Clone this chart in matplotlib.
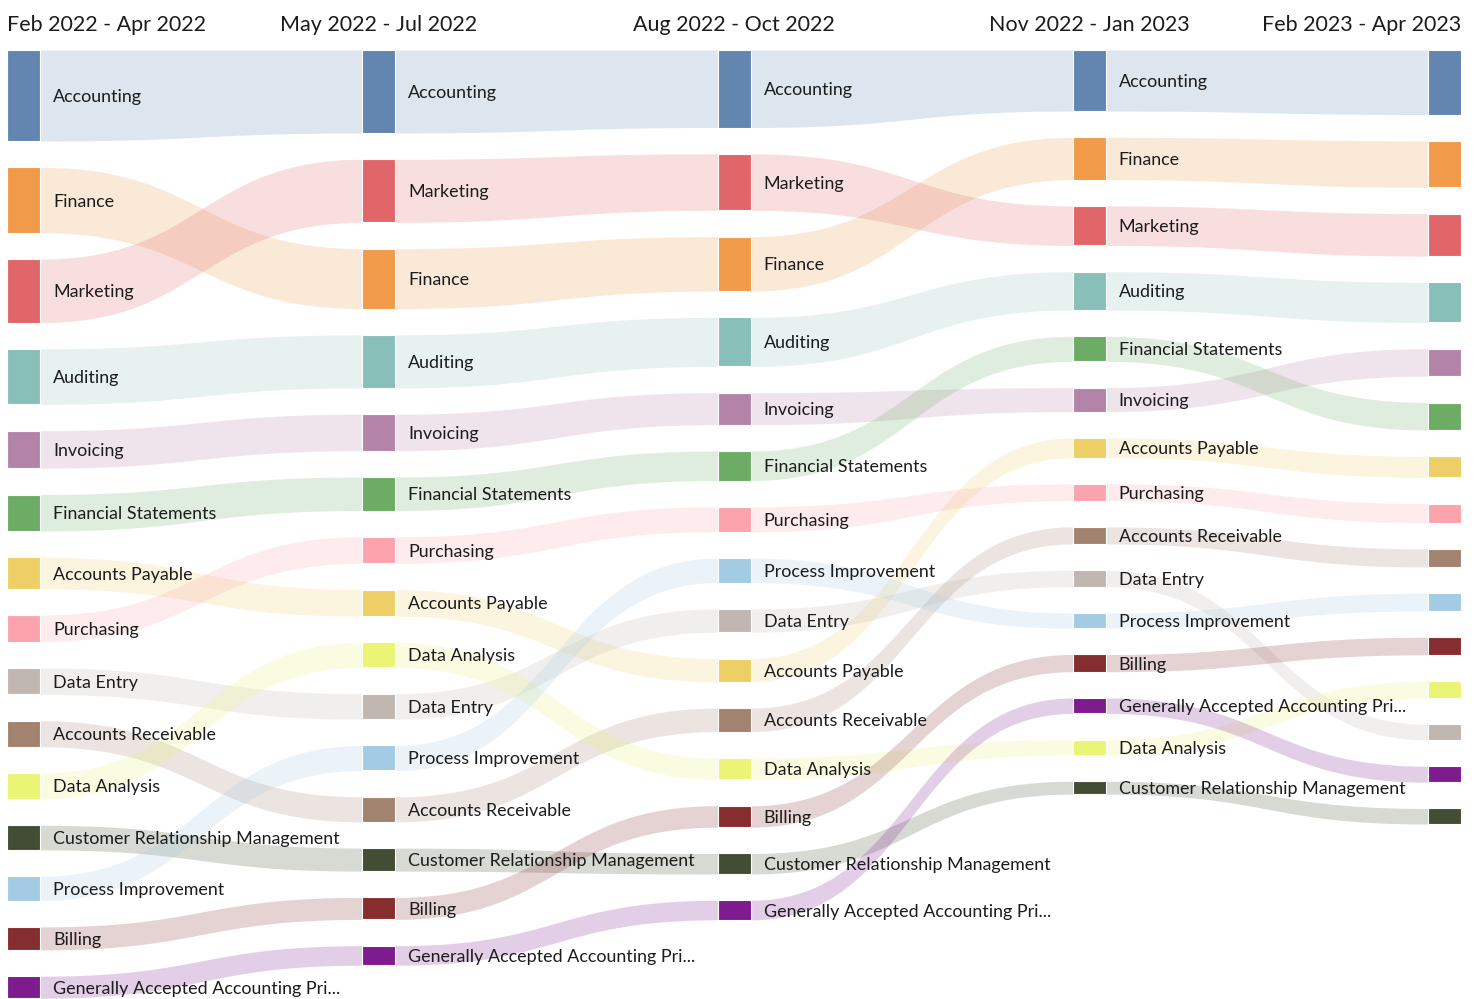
import matplotlib
matplotlib.use("Agg")
import matplotlib.pyplot as plt
from matplotlib.patches import Rectangle
import numpy as np

periods = ["Feb 2022 - Apr 2022", "May 2022 - Jul 2022", "Aug 2022 - Oct 2022",
           "Nov 2022 - Jan 2023", "Feb 2023 - Apr 2023"]

categories = ["Accounting", "Finance", "Marketing", "Auditing", "Invoicing",
              "Financial Statements", "Accounts Payable", "Purchasing", "Data Entry",
              "Accounts Receivable", "Data Analysis", "Customer Relationship Management",
              "Process Improvement", "Billing", "Generally Accepted Accounting Principles"]

colors = ["#6286B0", "#F09A4A", "#E1666A", "#89BFB9", "#B484A8",
          "#6CAC65", "#EECF65", "#FCA4AE", "#C0B7B1",
          "#A2836F", "#EAF576", "#424D33",
          "#A3CBE4", "#862D30", "#7D1B8F"]

GAAP = "Generally Accepted Accounting Principles"
CRM = "Customer Relationship Management"

p1_order = ["Accounting", "Finance", "Marketing", "Auditing", "Invoicing",
            "Financial Statements", "Accounts Payable", "Purchasing", "Data Entry",
            "Accounts Receivable", "Data Analysis", CRM, "Process Improvement",
            "Billing", GAAP]
p1_values = [91, 65.5, 63.5, 55.5, 37.5, 36.5, 31.5, 26.5, 26.5, 26, 26, 24.5, 24.5, 23, 22]

p2_order = ["Accounting", "Marketing", "Finance", "Auditing", "Invoicing",
            "Financial Statements", "Purchasing", "Accounts Payable", "Data Analysis",
            "Data Entry", "Process Improvement", "Accounts Receivable", CRM,
            "Billing", GAAP]
p2_values = [83, 63, 60, 53, 36.5, 33.5, 26.5, 26.5, 25, 25.5, 25, 25, 23, 22, 19.5]

p3_order = ["Accounting", "Marketing", "Finance", "Auditing", "Invoicing",
            "Financial Statements", "Purchasing", "Process Improvement", "Data Entry",
            "Accounts Payable", "Accounts Receivable", "Data Analysis", "Billing",
            CRM, GAAP]
p3_values = [77.5, 56.5, 54.5, 49, 32, 29.5, 25, 24.5, 23.3, 23.3, 23.5, 21.5, 21.5, 20.5, 19.5]

p4_order = ["Accounting", "Finance", "Marketing", "Auditing", "Financial Statements",
            "Invoicing", "Accounts Payable", "Purchasing", "Accounts Receivable",
            "Data Entry", "Process Improvement", "Billing", GAAP, "Data Analysis", CRM]
p4_values = [61, 42.3, 39.5, 38.3, 25, 24, 19.6, 16.8, 17, 16.5, 15.2, 17.2, 15.4, 15.3, 12.8]

p5_order = ["Accounting", "Finance", "Marketing", "Auditing", "Invoicing",
            "Financial Statements", "Accounts Payable", "Purchasing", "Accounts Receivable",
            "Process Improvement", "Billing", "Data Analysis", "Data Entry", GAAP, CRM]
p5_values = [64.5, 46.5, 42.5, 40, 27.5, 27.5, 21, 19, 18, 17.8, 17.5, 17, 15.5, 16, 15.5]

orders = [p1_order, p2_order, p3_order, p4_order, p5_order]
values = [p1_values, p2_values, p3_values, p4_values, p5_values]

# ---- layout (pixel-like units) ----
W_PX, H_PX = 1478, 999
TOP = 50.0
GAP = 26.3
X0 = 7.0
STEP = 355.25
NODE_W = 33.0
FONT = "Lato"
TEXT_COLOR = "#1c1c1c"

color_of = dict(zip(categories, colors))

fig = plt.figure(figsize=(W_PX / 100, H_PX / 100), dpi=100)
ax = fig.add_axes([0, 0, 1, 1])
ax.set_xlim(0, W_PX)
ax.set_ylim(H_PX, 0)
ax.axis("off")

positions = []
for order, vals in zip(orders, values):
    y = TOP
    pos = {}
    for c, v in zip(order, vals):
        pos[c] = (y, y + v)
        y += v + GAP
    positions.append(pos)

t = np.linspace(0, 1, 200)
s = 3 * t ** 2 - 2 * t ** 3
for i in range(len(periods) - 1):
    xa = X0 + i * STEP + NODE_W
    xb = X0 + (i + 1) * STEP
    xm = (xa + xb) / 2
    x = (1 - t) ** 3 * xa + 3 * (1 - t) ** 2 * t * xm + 3 * (1 - t) * t ** 2 * xm + t ** 3 * xb
    for c in categories:
        t0, b0 = positions[i][c]
        t1, b1 = positions[i + 1][c]
        ytop = t0 + (t1 - t0) * s
        ybot = b0 + (b1 - b0) * s
        ax.fill_between(x, ytop, ybot, color=color_of[c], alpha=0.21, lw=0, zorder=1)


def short(name, n=33):
    return name if len(name) <= n + 2 else name[:n] + "..."


for i, pos in enumerate(positions):
    xl = X0 + i * STEP
    for c in orders[i]:
        top, bot = pos[c]
        ax.add_patch(Rectangle((xl, top), NODE_W, bot - top, facecolor=color_of[c],
                               edgecolor="white", lw=0.8, zorder=3))
        if i < len(positions) - 1:
            ax.text(xl + NODE_W + 13, (top + bot) / 2, short(c), ha="left", va="center_baseline",
                    fontsize=12.9, family=FONT, color=TEXT_COLOR, zorder=4)
    if i == 0:
        ax.text(xl, 23, periods[i], ha="left", va="center_baseline", fontsize=15.45,
                family=FONT, color=TEXT_COLOR)
    elif i == len(positions) - 1:
        ax.text(xl + NODE_W, 23, periods[i], ha="right", va="center_baseline", fontsize=15.45,
                family=FONT, color=TEXT_COLOR)
    else:
        ax.text(xl + NODE_W / 2, 23, periods[i], ha="center", va="center_baseline", fontsize=15.45,
                family=FONT, color=TEXT_COLOR)

fig.savefig("out.png", dpi=100)
